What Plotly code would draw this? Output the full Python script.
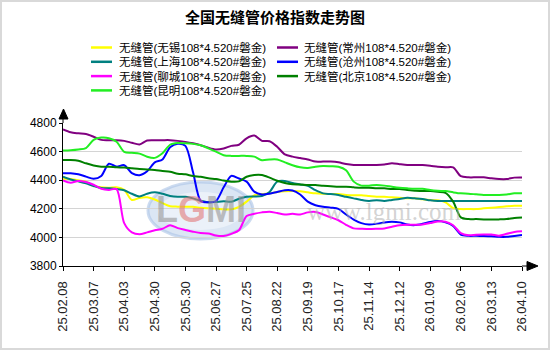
import plotly.graph_objects as go

# Weekly index values (元/吨), 61 observations per market
TICK_LABELS = ["25.02.08", "25.03.07", "25.04.03", "25.04.30", "25.05.30", "25.06.27",
               "25.07.25", "25.08.22", "25.09.19", "25.10.17", "25.11.14", "25.12.12",
               "26.01.09", "26.02.06", "26.03.13", "26.04.10"]

wuxi = [4410, 4408, 4400, 4389, 4360, 4350, 4348, 4350, 4332, 4262, 4276, 4280, 4265, 4240, 4218, 4215,
        4214, 4214, 4207, 4203, 4200, 4196, 4196, 4214, 4250, 4294, 4303, 4308, 4317, 4322, 4324, 4322,
        4315, 4308, 4305, 4303, 4303, 4296, 4294, 4294, 4289, 4284, 4284, 4280, 4277, 4274, 4273, 4266,
        4261, 4259, 4245, 4205, 4198, 4198, 4198, 4203, 4207, 4212, 4217, 4221, 4221]

changzhou = [4755, 4735, 4728, 4723, 4704, 4682, 4680, 4680, 4675, 4662, 4650, 4678, 4680, 4680, 4680, 4675,
             4668, 4658, 4645, 4627, 4615, 4622, 4640, 4648, 4693, 4712, 4675, 4672, 4634, 4580, 4565, 4555,
             4545, 4530, 4530, 4530, 4525, 4513, 4507, 4507, 4507, 4507, 4510, 4518, 4512, 4507, 4506, 4506,
             4501, 4494, 4490, 4490, 4428, 4420, 4420, 4420, 4413, 4408, 4408, 4418, 4419]

shanghai = [4424, 4405, 4392, 4378, 4360, 4345, 4343, 4338, 4330, 4305, 4286, 4305, 4315, 4305, 4290, 4284,
            4284, 4273, 4256, 4245, 4248, 4252, 4250, 4270, 4284, 4286, 4290, 4318, 4390, 4395, 4380, 4370,
            4360, 4330, 4308, 4303, 4296, 4284, 4273, 4262, 4255, 4260, 4255, 4262, 4268, 4277, 4273, 4268,
            4259, 4254, 4254, 4254, 4254, 4254, 4254, 4254, 4254, 4254, 4254, 4254, 4254]

cangzhou = [4448, 4448, 4441, 4425, 4410, 4430, 4515, 4495, 4505, 4450, 4435, 4462, 4525, 4545, 4630, 4655,
            4640, 4455, 4255, 4245, 4255, 4350, 4430, 4412, 4390, 4320, 4300, 4305, 4318, 4330, 4328, 4300,
            4250, 4225, 4214, 4208, 4200, 4160, 4125, 4100, 4090, 4095, 4105, 4109, 4105, 4090, 4086, 4095,
            4108, 4114, 4105, 4080, 4020, 4011, 4011, 4010, 4008, 4004, 4004, 4010, 4016]

liaocheng = [4398, 4382, 4395, 4388, 4368, 4340, 4332, 4338, 4100, 4035, 4022, 4035, 4050, 4060, 4085, 4065,
             4052, 4040, 4030, 4028, 4013, 4010, 4025, 4050, 4150, 4165, 4175, 4180, 4170, 4160, 4165, 4160,
             4175, 4178, 4160, 4140, 4120, 4088, 4063, 4060, 4058, 4060, 4063, 4074, 4085, 4088, 4088, 4090,
             4100, 4112, 4110, 4085, 4030, 4015, 4018, 4020, 4020, 4012, 4025, 4038, 4043]

beijing = [4541, 4541, 4536, 4518, 4503, 4494, 4494, 4490, 4488, 4483, 4478, 4475, 4471, 4464, 4459, 4445,
           4441, 4429, 4424, 4413, 4408, 4398, 4390, 4392, 4424, 4436, 4436, 4418, 4396, 4380, 4372, 4370,
           4366, 4366, 4361, 4358, 4354, 4354, 4350, 4347, 4347, 4343, 4343, 4338, 4338, 4331, 4327, 4324,
           4324, 4319, 4312, 4250, 4140, 4128, 4128, 4126, 4126, 4126, 4128, 4136, 4140]

kunming = [4608, 4610, 4615, 4625, 4682, 4698, 4694, 4669, 4598, 4592, 4586, 4564, 4556, 4588, 4648, 4660,
           4658, 4654, 4645, 4623, 4600, 4575, 4570, 4570, 4570, 4565, 4540, 4545, 4545, 4525, 4505, 4490,
           4485, 4494, 4499, 4497, 4494, 4470, 4390, 4362, 4362, 4366, 4362, 4354, 4347, 4343, 4340, 4340,
           4331, 4326, 4324, 4315, 4308, 4306, 4301, 4296, 4296, 4296, 4300, 4308, 4308]

SERIES = [
    ("无缝管(无锡108*4.520#磐金)", wuxi, "#FFFF00"),
    ("无缝管(常州108*4.520#磐金)", changzhou, "#800080"),
    ("无缝管(上海108*4.520#磐金)", shanghai, "#008080"),
    ("无缝管(沧州108*4.520#磐金)", cangzhou, "#0000FF"),
    ("无缝管(聊城108*4.520#磐金)", liaocheng, "#FF00FF"),
    ("无缝管(北京108*4.520#磐金)", beijing, "#008000"),
    ("无缝管(昆明108*4.520#磐金)", kunming, "#22EE22"),
]

x_idx = list(range(len(wuxi)))
tick_pos = x_idx[::4]

fig = go.Figure()
for name, vals, color in SERIES:
    fig.add_trace(go.Scatter(
        x=x_idx, y=vals, name=name, mode="lines",
        line=dict(color=color, width=2, shape="spline", smoothing=0.8),
        hoverinfo="skip", showlegend=False,
    ))

# plot-area geometry in pixels, used to place axis arrows and decorations
L, R, T, B = 63, 28, 123, 84
W, H = 550, 350
PW, PH = W - L - R, H - T - B


def px(xp):
    return (xp - L) / PW


def py(yp):
    return (H - B - yp) / PH


shapes = [
    # outer frame
    dict(type="rect", xref="paper", yref="paper", x0=px(1), x1=px(549), y0=py(349), y1=py(1),
         line=dict(color="#d9d9d9", width=2), layer="below"),
    # watermark ellipse
    dict(type="circle", xref="paper", yref="paper", x0=px(148), x1=px(253), y0=py(239), y1=py(182),
         fillcolor="rgba(190,210,235,0.55)", line=dict(color="rgba(170,195,230,0.6)", width=3),
         layer="below"),
    dict(type="circle", xref="paper", yref="paper", x0=px(158), x1=px(243), y0=py(230), y1=py(192),
         fillcolor="rgba(255,255,255,0.45)", line=dict(width=0), layer="below"),
    # y axis extension and arrow
    dict(type="line", xref="paper", yref="paper", x0=0, x1=0, y0=1, y1=py(118),
         line=dict(color="black", width=1)),
    dict(type="path", xref="paper", yref="paper",
         path=f"M {px(59)},{py(119)} L {px(68)},{py(119)} L {px(63.5)},{py(109)} Z",
         fillcolor="black", line=dict(color="black", width=1)),
    # x axis extension and arrow
    dict(type="line", xref="paper", yref="paper", x0=1, x1=px(528), y0=0, y1=0,
         line=dict(color="black", width=1)),
    dict(type="path", xref="paper", yref="paper",
         path=f"M {px(527)},{py(261.5)} L {px(527)},{py(270.5)} L {px(538)},{py(266)} Z",
         fillcolor="black", line=dict(color="black", width=1)),
]

annotations = [
    dict(xref="paper", yref="paper", x=px(201), y=py(209), xanchor="center", yanchor="middle",
         showarrow=False,
         text=("<b><span style='color:rgba(150,150,150,0.6)'>L</span>"
               "<span style='color:rgba(225,120,120,0.6)'>G</span>"
               "<span style='color:rgba(150,150,150,0.6)'>MI</span></b>"),
         font=dict(family="Liberation Sans", size=36)),
    dict(xref="paper", yref="paper", x=px(384), y=py(211), xanchor="center", yanchor="middle",
         showarrow=False, text="www.lgmi.com",
         font=dict(family="Liberation Serif", size=25, color="rgba(175,175,175,0.55)")),
]

# two-column legend, filled row by row
LEG_COLS = [(91, 112, 117), (277, 298, 302)]
LEG_ROW0, LEG_DY = 47.5, 14.3
for k, (name, _, color) in enumerate(SERIES):
    lx0, lx1, tx = LEG_COLS[k % 2]
    ly = LEG_ROW0 + LEG_DY * (k // 2)
    shapes.append(dict(type="line", xref="paper", yref="paper",
                       x0=px(lx0), x1=px(lx1), y0=py(ly), y1=py(ly),
                       line=dict(color=color, width=2.5)))
    annotations.append(dict(xref="paper", yref="paper", x=px(tx), y=py(ly),
                            xanchor="left", yanchor="middle", showarrow=False,
                            text=name, font=dict(size=11.5, color="black")))

fig.update_layout(
    width=W, height=H,
    margin=dict(l=L, r=R, t=T, b=B, pad=0),
    paper_bgcolor="white", plot_bgcolor="white",
    font=dict(family="Liberation Sans, Noto Sans CJK SC", size=12, color="black"),
    title=dict(text="<b>全国无缝管价格指数走势图</b>", xref="container", yref="container",
               x=0.5, xanchor="center", y=1 - 17.5 / H, yanchor="middle",
               font=dict(family="Noto Sans CJK SC", size=15, color="black")),
    showlegend=False,
    xaxis=dict(range=[0, len(wuxi) - 1], tickmode="array", tickvals=tick_pos, ticktext=TICK_LABELS,
               tickangle=-90, ticks="outside", ticklen=4, tickcolor="black", ticklabelstandoff=5,
               showline=True, linecolor="black", linewidth=1, showgrid=False, zeroline=False,
               tickfont=dict(family="Liberation Sans", size=13, color="#222")),
    yaxis=dict(range=[3800, 4800], tickmode="linear", tick0=3800, dtick=200,
               ticks="outside", ticklen=3, tickcolor="black",
               showline=True, linecolor="black", linewidth=1,
               showgrid=True, gridcolor="#d4d4d4", gridwidth=1, zeroline=False,
               tickfont=dict(family="Liberation Sans", size=12, color="black")),
    shapes=shapes,
    annotations=annotations,
)

fig.write_html("out.html")
